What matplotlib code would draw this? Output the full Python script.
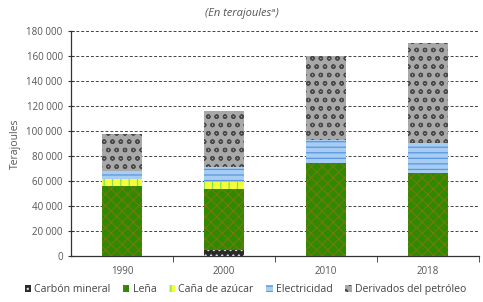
import matplotlib.pyplot as plt
import numpy as np

plt.rcParams['font.family'] = ['Open Sans', 'DejaVu Sans']
plt.rcParams['hatch.linewidth'] = 0.9

years = ['1990', '2000', '2010', '2018']
carbon = np.array([0, 4800, 0, 0])
lena = np.array([56000, 49200, 74100, 66100])
cana = np.array([5600, 5400, 0, 0])
elec = np.array([6400, 11600, 18700, 24000])
deriv = np.array([29600, 45000, 67500, 80000])

series = [
    ('Carbón mineral', carbon, '#2a2a2a', '#d8d8d8', '...'),
    ('Leña', lena, '#2f8a00', '#6f7a10', 'xxx'),
    ('Caña de azúcar', cana, '#f4ff3a', '#7ee05a', '||'),
    ('Electricidad', elec, '#a8cdf2', '#5a96e2', '---'),
    ('Derivados del petróleo', deriv, '#a8a8a8', '#4a4a4a', 'oo'),
]

fig = plt.figure(figsize=(4.83, 3.02), dpi=100)
ax = fig.add_axes([0.147, 0.152, 0.845, 0.745])

x = np.arange(len(years))
bottom = np.zeros(len(years))
for name, vals, fc, hc, h in series:
    ax.bar(x, vals, width=0.39, bottom=bottom, color=fc, edgecolor=hc,
           hatch=h, linewidth=0, label=name, zorder=3)
    bottom = bottom + vals

ax.set_xlim(-0.5, 3.5)
ax.set_ylim(0, 180000)
ax.set_yticks(np.arange(0, 180001, 20000))
ax.set_yticklabels([f'{v:,}'.replace(',', ' ') for v in range(0, 180001, 20000)])
ax.set_xticks(x)
ax.set_xticklabels(years)
ax.set_xticks([0.5, 1.5, 2.5, 3.5], minor=True)
ax.tick_params(axis='x', which='major', length=0, pad=7, labelsize=7, colors='#555555')
ax.tick_params(axis='x', which='minor', length=4, direction='out', color='#333333')
ax.tick_params(axis='y', length=5, direction='inout', labelsize=7, colors='#555555')
ax.tick_params(axis='y', color='#333333')

ax.yaxis.grid(True, linestyle=(0, (3, 2)), color='#444444', linewidth=0.7, zorder=0)
for s in ['top', 'right']:
    ax.spines[s].set_visible(False)
for s in ['left', 'bottom']:
    ax.spines[s].set_color('#333333')
    ax.spines[s].set_linewidth(0.9)

ax.set_ylabel('Terajoules', fontsize=7.5, color='#555555', labelpad=4)

fig.text(0.5, 0.955, '(En terajoules\u1d43)', ha='center', va='center',
         fontsize=8, style='italic', color='#555555')

handles, labels = ax.get_legend_handles_labels()
fig.legend(handles, labels, loc='center', bbox_to_anchor=(0.508, 0.04),
           ncol=5, frameon=False, fontsize=7.6, handlelength=0.6, handleheight=0.6,
           handletextpad=0.3, columnspacing=1.2, labelcolor='#444444')

fig.savefig('out.png', dpi=100)
